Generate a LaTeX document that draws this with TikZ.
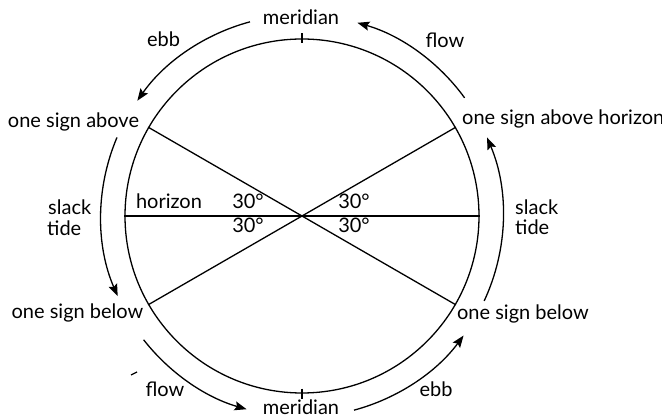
\documentclass[tikz,border=0pt]{standalone}
\usepackage{fontspec}
\setmainfont{Lato}
\usetikzlibrary{arrows.meta}
\begin{document}
\begin{tikzpicture}[x=1pt,y=1pt,
  lbl/.style={inner sep=0pt, font=\fontsize{20}{22}\selectfont},
  ring/.style={line width=1.3pt},
  tidearrow/.style={line width=1.3pt, -{Stealth[length=12pt,width=9pt,inset=2pt]}}]
\useasboundingbox (0,0) rectangle (662,420);
% main circle
\node[circle, draw, ring, minimum size=354pt, inner sep=0pt] (C) at (302,204) {};
% diameters
\draw[ring] (C.180) -- (C.0);
\draw[ring] (C.150) -- (C.330);
\draw[ring] (C.30) -- (C.210);
% meridian ticks
\draw[ring] ([yshift=5]C.north) -- ([yshift=-5]C.north);
\draw[ring] ([yshift=5]C.south) -- ([yshift=-5]C.south);
% outer tide arrows (all counter-clockwise)
\draw[tidearrow] ([shift={(105:201)}]C.center) arc[start angle=105, end angle=145, radius=201];
\draw[tidearrow] ([shift={(36:201)}]C.center) arc[start angle=36, end angle=74, radius=201];
\draw[tidearrow] ([shift={(157:201)}]C.center) arc[start angle=157, end angle=203.5, radius=201];
\draw[tidearrow] ([shift={(218:201)}]C.center) arc[start angle=218, end angle=254, radius=201];
\draw[tidearrow] ([shift={(285:201)}]C.center) arc[start angle=285, end angle=323.5, radius=201];
\draw[tidearrow] ([shift={(335:201)}]C.center) arc[start angle=335, end angle=383, radius=201];
% stray mark
\coordinate (m1) at (131,45);
\coordinate (m2) at (137,48);
\draw[line width=1.3pt] (m1) -- (m2);
% labels
\node[lbl, anchor=base] (mtop) at (301,395) {meridian};
\node[lbl, anchor=base] (ebbtop) at (163.5,373) {ebb};
\node[lbl, anchor=base] (flowtop) at (445,372) {flow};
\node[lbl, anchor=base] (aboveL) at (73.5,292) {one sign above};
\node[lbl, anchor=base west] (aboveR) at (462,295) {one sign above horizon};
\node[lbl, anchor=base west] (slackL) at (48,205) {slack};
\node[lbl, anchor=base west] (tideL) at (47,184) {tide};
\node[lbl, anchor=base] (hor) at (169,211) {horizon};
\node[lbl, anchor=base] (ul) at (248,211) {30°};
\node[lbl, anchor=base] (ll) at (248,187) {30°};
\node[lbl, anchor=base] (ur) at (354,211) {30°};
\node[lbl, anchor=base] (lr) at (354,187) {30°};
\node[lbl, anchor=base west] (slackR) at (515,205) {slack};
\node[lbl, anchor=base west] (tideR) at (515,185) {tide};
\node[lbl, anchor=base] (belowL) at (77.5,101) {one sign below};
\node[lbl, anchor=base] (belowR) at (523,100) {one sign below};
\node[lbl, anchor=base] (flowbot) at (165,23) {flow};
\node[lbl, anchor=base] (mbot) at (301,5) {meridian};
\node[lbl, anchor=base] (ebbbot) at (436,23) {ebb};
\end{tikzpicture}
\end{document}
